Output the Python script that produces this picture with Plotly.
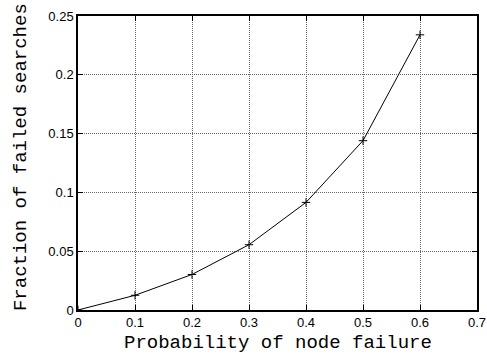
import plotly.graph_objects as go

prob = [0, 0.1, 0.2, 0.3, 0.4, 0.5, 0.6]
failed = [0.0, 0.0125, 0.0302, 0.0555, 0.0915, 0.144, 0.234]

x_title = "Probability of node failure"
y_title = "Fraction of failed searches"

fig = go.Figure()
fig.add_trace(go.Scatter(
    x=prob, y=failed, mode="lines+markers",
    line=dict(color="black", width=1),
    marker=dict(symbol="cross-thin", size=6, line=dict(color="black", width=1), color="black"),
    showlegend=False,
))

axis_common = dict(
    showline=True, linecolor="black", linewidth=1.5, mirror="ticks",
    ticks="inside", ticklen=5, tickcolor="black", tickwidth=1,
    showgrid=True, gridcolor="#666", griddash="1px,1px", gridwidth=1,
    zeroline=False, automargin=False,
    tickfont=dict(family="Liberation Sans, Arial, sans-serif", size=13, color="black"),
)

fig.update_xaxes(range=[0, 0.7], dtick=0.1, **axis_common)
fig.update_yaxes(range=[0, 0.25], dtick=0.05, **axis_common)

title_font = dict(family="Liberation Mono, Courier New, monospace", size=19, color="black")
fig.add_annotation(text=x_title, xref="paper", yref="paper", x=0.5, y=-0.112,
                   xanchor="center", yanchor="middle", showarrow=False, font=title_font)
fig.add_annotation(text=y_title, xref="paper", yref="paper", x=-0.143, y=0.52,
                   xanchor="center", yanchor="middle", showarrow=False, font=title_font,
                   textangle=-90)

fig.update_layout(
    width=487, height=356,
    margin=dict(l=78, r=10, t=16, b=46),
    plot_bgcolor="white", paper_bgcolor="white",
)

fig.write_html("out.html")
